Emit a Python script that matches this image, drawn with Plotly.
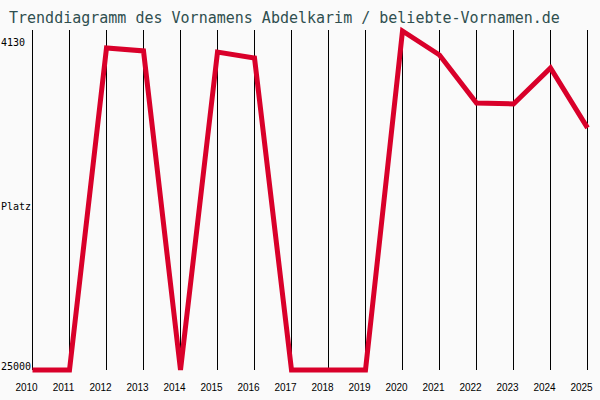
"""
Trend chart for the first name Abdelkarim (rank per year)
"""
import plotly.graph_objects as go

# data
years = list(range(2010, 2026))
ranks = [25000, 25000, 4510, 4700, 25000, 4770, 5150, 25000, 25000, 25000,
         3430, 4960, 8010, 8075, 5785, 9600]
tick_vals = [4130, 14565, 25000]
tick_text = ['4130', 'Platz', '25000']

TITLE = 'Trenddiagramm des Vornamens Abdelkarim / beliebte-Vornamen.de'
Y_TOP = 3370       # value at the top end of the year lines
Y_BOTTOM = 25000
PAD = 4 * 63.62    # ~4 px of slack so the thick line is not clipped
PX = 1 / 37        # one pixel in x-axis units (37 px per year)
LEFT, RIGHT = 32, 8

fig = go.Figure()

# vertical year lines
vx, vy = [], []
for yr in years:
    vx += [yr, yr, None]
    vy += [Y_BOTTOM, Y_TOP, None]
fig.add_trace(go.Scatter(
    x=vx, y=vy, mode='lines',
    line=dict(color='black', width=1),
    hoverinfo='skip', showlegend=False
))

# rank line
fig.add_trace(go.Scatter(
    x=years, y=ranks, mode='lines',
    line=dict(color='#d9002a', width=5),
    name='Abdelkarim', showlegend=False
))

# y labels sit flush left at the page edge, so draw them as annotations
for val, txt in zip(tick_vals, tick_text):
    fig.add_annotation(
        x=-LEFT / 560, xref='paper', xanchor='left',
        y=val, yref='y', yanchor='middle',
        text=txt, showarrow=False,
        font=dict(family='DejaVu Sans Mono', size=10, color='black'),
        xshift=-1.5,
        yshift=4 if val == Y_BOTTOM else -1,
    )

fig.update_layout(
    width=600, height=400,
    margin=dict(l=LEFT, r=RIGHT, t=26, b=26, autoexpand=False),
    paper_bgcolor='#fafafa',
    plot_bgcolor='#fafafa',
    title=dict(
        text=TITLE,
        x=9 / 600, xref='container', xanchor='left',
        y=1 - 18 / 400, yref='container', yanchor='middle',
        automargin=False,
        font=dict(family='DejaVu Sans Mono', size=15, color='#2f4f4f')
    ),
)

# plot area is 560 px wide; 2010 lands on pixel column 32 (centre 32.5)
# year labels sit a little left of their line, as in the original
fig.update_xaxes(
    range=[2010 - 0.5 * PX, 2010 - 0.5 * PX + 560 * PX],
    tickvals=years, automargin=False,
    showgrid=False, zeroline=False, showline=False,
    ticks='', ticklabelstandoff=6, ticklabelshift=-6,
    tickfont=dict(family='Liberation Sans', size=10, color='black'),
)
fig.update_yaxes(
    range=[Y_BOTTOM + PAD, Y_TOP - PAD],
    showticklabels=False, automargin=False,
    showgrid=False, zeroline=False, showline=False, ticks='',
)

# drop the browser's default 8px body margin so the figure sits at (0, 0)
fig.write_html("out.html", config={'displayModeBar': False},
               post_script="document.body.style.margin='0';")
